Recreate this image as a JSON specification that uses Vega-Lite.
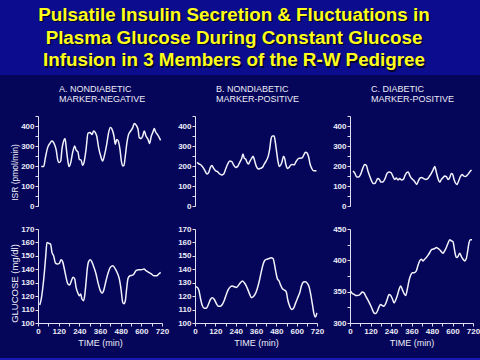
{
  "$schema": "https://vega.github.io/schema/vega-lite/v6.json",
  "padding": 0,
  "background": "#050559",
  "spacing": 0,
  "config": {
    "view": {"stroke": null},
    "title": {"font": "Liberation Sans", "fontSize": 9, "fontWeight": "normal", "color": "#ececf8", "lineHeight": 10, "anchor": "start", "frame": "group", "offset": 8, "dx": 21},
    "axis": {"domainColor": "#e0e0f0", "tickColor": "#e0e0f0", "labelColor": "#ececf8", "titleColor": "#ececf8", "grid": false, "tickSize": 3, "labelFont": "Liberation Sans", "labelFontSize": 8, "labelFontWeight": "bold", "titleFont": "Liberation Sans", "titleFontSize": 9, "titleFontWeight": "normal", "labelPadding": 1, "labelOverlap": false, "labelFlush": false, "titlePadding": 3},
    "line": {"color": "#f2f2fc", "strokeWidth": 1.5, "interpolate": "monotone"}
  },
  "datasets": {
    "head": [
      {"line": 1, "text": "Pulsatile Insulin Secretion & Fluctuations in"},
      {"line": 2, "text": "Plasma Glucose During Constant Glucose"},
      {"line": 3, "text": "Infusion in 3 Members of the R-W Pedigree"}
    ],
    "isr": [
      {"s":"A","t":19,"v":197},{"s":"A","t":33,"v":197},{"s":"A","t":43,"v":242},{"s":"A","t":56,"v":292},{"s":"A","t":72,"v":317},{"s":"A","t":81,"v":325},{"s":"A","t":97,"v":305},{"s":"A","t":105,"v":283},{"s":"A","t":114,"v":233},{"s":"A","t":122,"v":217},{"s":"A","t":132,"v":225},{"s":"A","t":139,"v":283},{"s":"A","t":149,"v":325},{"s":"A","t":157,"v":337},{"s":"A","t":165,"v":283},{"s":"A","t":172,"v":233},{"s":"A","t":180,"v":197},{"s":"A","t":190,"v":217},{"s":"A","t":201,"v":267},{"s":"A","t":213,"v":300},{"s":"A","t":221,"v":280},{"s":"A","t":232,"v":270},{"s":"A","t":240,"v":233},{"s":"A","t":250,"v":230},{"s":"A","t":259,"v":203},{"s":"A","t":267,"v":217},{"s":"A","t":279,"v":283},{"s":"A","t":290,"v":363},{"s":"A","t":302,"v":367},{"s":"A","t":314,"v":358},{"s":"A","t":323,"v":375},{"s":"A","t":333,"v":367},{"s":"A","t":341,"v":350},{"s":"A","t":352,"v":292},{"s":"A","t":364,"v":250},{"s":"A","t":375,"v":225},{"s":"A","t":387,"v":258},{"s":"A","t":399,"v":308},{"s":"A","t":410,"v":367},{"s":"A","t":420,"v":392},{"s":"A","t":430,"v":383},{"s":"A","t":441,"v":350},{"s":"A","t":449,"v":308},{"s":"A","t":457,"v":333},{"s":"A","t":466,"v":325},{"s":"A","t":476,"v":283},{"s":"A","t":484,"v":225},{"s":"A","t":492,"v":200},{"s":"A","t":499,"v":203},{"s":"A","t":507,"v":250},{"s":"A","t":515,"v":308},{"s":"A","t":526,"v":358},{"s":"A","t":538,"v":375},{"s":"A","t":550,"v":392},{"s":"A","t":559,"v":413},{"s":"A","t":571,"v":403},{"s":"A","t":581,"v":383},{"s":"A","t":588,"v":342},{"s":"A","t":600,"v":337},{"s":"A","t":608,"v":350},{"s":"A","t":617,"v":375},{"s":"A","t":627,"v":350},{"s":"A","t":639,"v":333},{"s":"A","t":648,"v":313},{"s":"A","t":658,"v":350},{"s":"A","t":666,"v":367},{"s":"A","t":675,"v":387},{"s":"A","t":683,"v":370},{"s":"A","t":693,"v":358},{"s":"A","t":701,"v":347},{"s":"A","t":712,"v":328},
      {"s":"B","t":12,"v":218},{"s":"B","t":24,"v":210},{"s":"B","t":35,"v":205},{"s":"B","t":47,"v":193},{"s":"B","t":59,"v":176},{"s":"B","t":71,"v":160},{"s":"B","t":81,"v":168},{"s":"B","t":91,"v":193},{"s":"B","t":100,"v":202},{"s":"B","t":110,"v":188},{"s":"B","t":122,"v":176},{"s":"B","t":134,"v":171},{"s":"B","t":146,"v":160},{"s":"B","t":157,"v":155},{"s":"B","t":169,"v":160},{"s":"B","t":181,"v":185},{"s":"B","t":193,"v":210},{"s":"B","t":205,"v":225},{"s":"B","t":217,"v":222},{"s":"B","t":228,"v":205},{"s":"B","t":240,"v":193},{"s":"B","t":252,"v":198},{"s":"B","t":264,"v":218},{"s":"B","t":276,"v":239},{"s":"B","t":283,"v":260},{"s":"B","t":291,"v":239},{"s":"B","t":299,"v":235},{"s":"B","t":307,"v":218},{"s":"B","t":315,"v":210},{"s":"B","t":323,"v":222},{"s":"B","t":335,"v":239},{"s":"B","t":343,"v":249},{"s":"B","t":350,"v":232},{"s":"B","t":362,"v":198},{"s":"B","t":374,"v":185},{"s":"B","t":386,"v":188},{"s":"B","t":398,"v":193},{"s":"B","t":409,"v":210},{"s":"B","t":421,"v":227},{"s":"B","t":433,"v":252},{"s":"B","t":441,"v":286},{"s":"B","t":449,"v":336},{"s":"B","t":457,"v":350},{"s":"B","t":467,"v":350},{"s":"B","t":474,"v":319},{"s":"B","t":482,"v":269},{"s":"B","t":490,"v":222},{"s":"B","t":498,"v":198},{"s":"B","t":506,"v":205},{"s":"B","t":514,"v":222},{"s":"B","t":522,"v":249},{"s":"B","t":530,"v":235},{"s":"B","t":537,"v":205},{"s":"B","t":547,"v":188},{"s":"B","t":555,"v":193},{"s":"B","t":565,"v":205},{"s":"B","t":575,"v":208},{"s":"B","t":585,"v":205},{"s":"B","t":594,"v":218},{"s":"B","t":604,"v":232},{"s":"B","t":614,"v":239},{"s":"B","t":624,"v":239},{"s":"B","t":634,"v":242},{"s":"B","t":642,"v":255},{"s":"B","t":652,"v":269},{"s":"B","t":661,"v":266},{"s":"B","t":671,"v":244},{"s":"B","t":679,"v":210},{"s":"B","t":689,"v":188},{"s":"B","t":699,"v":176},{"s":"B","t":709,"v":176},{"s":"B","t":717,"v":175},
      {"s":"C","t":18,"v":175},{"s":"C","t":29,"v":163},{"s":"C","t":39,"v":145},{"s":"C","t":51,"v":145},{"s":"C","t":62,"v":158},{"s":"C","t":74,"v":187},{"s":"C","t":86,"v":208},{"s":"C","t":96,"v":203},{"s":"C","t":105,"v":175},{"s":"C","t":115,"v":150},{"s":"C","t":125,"v":128},{"s":"C","t":135,"v":113},{"s":"C","t":146,"v":113},{"s":"C","t":154,"v":125},{"s":"C","t":162,"v":138},{"s":"C","t":172,"v":133},{"s":"C","t":181,"v":120},{"s":"C","t":193,"v":120},{"s":"C","t":205,"v":137},{"s":"C","t":217,"v":163},{"s":"C","t":228,"v":170},{"s":"C","t":240,"v":167},{"s":"C","t":252,"v":147},{"s":"C","t":261,"v":133},{"s":"C","t":271,"v":140},{"s":"C","t":281,"v":130},{"s":"C","t":291,"v":137},{"s":"C","t":302,"v":130},{"s":"C","t":312,"v":133},{"s":"C","t":322,"v":153},{"s":"C","t":332,"v":167},{"s":"C","t":341,"v":170},{"s":"C","t":351,"v":150},{"s":"C","t":361,"v":137},{"s":"C","t":371,"v":130},{"s":"C","t":380,"v":120},{"s":"C","t":390,"v":108},{"s":"C","t":400,"v":125},{"s":"C","t":410,"v":140},{"s":"C","t":420,"v":142},{"s":"C","t":431,"v":137},{"s":"C","t":443,"v":133},{"s":"C","t":455,"v":137},{"s":"C","t":466,"v":150},{"s":"C","t":476,"v":163},{"s":"C","t":486,"v":180},{"s":"C","t":496,"v":197},{"s":"C","t":506,"v":167},{"s":"C","t":515,"v":137},{"s":"C","t":525,"v":120},{"s":"C","t":535,"v":133},{"s":"C","t":545,"v":142},{"s":"C","t":554,"v":150},{"s":"C","t":564,"v":147},{"s":"C","t":574,"v":133},{"s":"C","t":584,"v":142},{"s":"C","t":593,"v":163},{"s":"C","t":601,"v":158},{"s":"C","t":609,"v":133},{"s":"C","t":619,"v":113},{"s":"C","t":626,"v":108},{"s":"C","t":636,"v":125},{"s":"C","t":646,"v":147},{"s":"C","t":656,"v":158},{"s":"C","t":665,"v":150},{"s":"C","t":675,"v":147},{"s":"C","t":685,"v":153},{"s":"C","t":695,"v":163},{"s":"C","t":705,"v":175},{"s":"C","t":712,"v":180}
    ],
    "glu": [
      {"s":"A","t":10,"v":113.4},{"s":"A","t":19,"v":117.9},{"s":"A","t":27,"v":125.3},{"s":"A","t":37,"v":137.7},{"s":"A","t":45,"v":150},{"s":"A","t":52,"v":160},{"s":"A","t":62,"v":159.3},{"s":"A","t":73,"v":158.8},{"s":"A","t":81,"v":152.6},{"s":"A","t":91,"v":150},{"s":"A","t":101,"v":144.7},{"s":"A","t":112,"v":143.9},{"s":"A","t":124,"v":144.4},{"s":"A","t":134,"v":147.1},{"s":"A","t":143,"v":145.7},{"s":"A","t":153,"v":140.2},{"s":"A","t":163,"v":134},{"s":"A","t":174,"v":129},{"s":"A","t":184,"v":128.3},{"s":"A","t":194,"v":131.5},{"s":"A","t":203,"v":134},{"s":"A","t":213,"v":132.8},{"s":"A","t":221,"v":126.6},{"s":"A","t":230,"v":122.8},{"s":"A","t":240,"v":120.3},{"s":"A","t":248,"v":121.6},{"s":"A","t":255,"v":117.9},{"s":"A","t":265,"v":116.6},{"s":"A","t":271,"v":120.3},{"s":"A","t":279,"v":130.3},{"s":"A","t":286,"v":140.2},{"s":"A","t":294,"v":145.7},{"s":"A","t":304,"v":147.1},{"s":"A","t":314,"v":145.2},{"s":"A","t":325,"v":141.4},{"s":"A","t":337,"v":136.5},{"s":"A","t":348,"v":130.3},{"s":"A","t":362,"v":124.1},{"s":"A","t":372,"v":122.1},{"s":"A","t":381,"v":124.1},{"s":"A","t":395,"v":131.5},{"s":"A","t":407,"v":137.2},{"s":"A","t":420,"v":141.4},{"s":"A","t":435,"v":142.7},{"s":"A","t":449,"v":140.2},{"s":"A","t":463,"v":136.5},{"s":"A","t":472,"v":132.8},{"s":"A","t":482,"v":125.3},{"s":"A","t":492,"v":115.4},{"s":"A","t":499,"v":114.4},{"s":"A","t":507,"v":116.6},{"s":"A","t":515,"v":125.8},{"s":"A","t":523,"v":133.3},{"s":"A","t":534,"v":135.2},{"s":"A","t":546,"v":135.5},{"s":"A","t":557,"v":136.5},{"s":"A","t":569,"v":139},{"s":"A","t":585,"v":139.7},{"s":"A","t":600,"v":139.7},{"s":"A","t":616,"v":140.2},{"s":"A","t":627,"v":139},{"s":"A","t":643,"v":137.7},{"s":"A","t":658,"v":136.5},{"s":"A","t":674,"v":135.2},{"s":"A","t":689,"v":135.2},{"s":"A","t":701,"v":136.5},{"s":"A","t":712,"v":137.7},
      {"s":"B","t":4,"v":127},{"s":"B","t":16,"v":126.3},{"s":"B","t":24,"v":123.8},{"s":"B","t":33,"v":118},{"s":"B","t":43,"v":113},{"s":"B","t":55,"v":111},{"s":"B","t":67,"v":111},{"s":"B","t":79,"v":113.8},{"s":"B","t":91,"v":117.5},{"s":"B","t":102,"v":118.8},{"s":"B","t":114,"v":117.5},{"s":"B","t":126,"v":114.5},{"s":"B","t":138,"v":112.5},{"s":"B","t":150,"v":112.5},{"s":"B","t":161,"v":113.8},{"s":"B","t":173,"v":117},{"s":"B","t":185,"v":121.3},{"s":"B","t":197,"v":125},{"s":"B","t":209,"v":127},{"s":"B","t":220,"v":127.5},{"s":"B","t":232,"v":127},{"s":"B","t":244,"v":126.5},{"s":"B","t":256,"v":128},{"s":"B","t":268,"v":130},{"s":"B","t":280,"v":131.3},{"s":"B","t":291,"v":130},{"s":"B","t":303,"v":127.5},{"s":"B","t":313,"v":124.5},{"s":"B","t":323,"v":121.3},{"s":"B","t":333,"v":118.8},{"s":"B","t":343,"v":119.5},{"s":"B","t":354,"v":121.3},{"s":"B","t":366,"v":125},{"s":"B","t":378,"v":130.5},{"s":"B","t":390,"v":137.5},{"s":"B","t":402,"v":143.8},{"s":"B","t":413,"v":146.8},{"s":"B","t":425,"v":147.5},{"s":"B","t":437,"v":148},{"s":"B","t":449,"v":148.5},{"s":"B","t":461,"v":148},{"s":"B","t":469,"v":143.8},{"s":"B","t":476,"v":138.8},{"s":"B","t":486,"v":133},{"s":"B","t":496,"v":131.3},{"s":"B","t":506,"v":128},{"s":"B","t":516,"v":125.5},{"s":"B","t":528,"v":124.5},{"s":"B","t":539,"v":123},{"s":"B","t":547,"v":117.5},{"s":"B","t":559,"v":112.5},{"s":"B","t":571,"v":110},{"s":"B","t":583,"v":111.3},{"s":"B","t":594,"v":115},{"s":"B","t":606,"v":118.8},{"s":"B","t":618,"v":122.5},{"s":"B","t":628,"v":127.5},{"s":"B","t":640,"v":130.5},{"s":"B","t":652,"v":130.8},{"s":"B","t":663,"v":129.5},{"s":"B","t":673,"v":127},{"s":"B","t":683,"v":121.3},{"s":"B","t":693,"v":113.8},{"s":"B","t":701,"v":107.5},{"s":"B","t":709,"v":104.5},{"s":"B","t":715,"v":105.5},{"s":"B","t":719,"v":107.5},
      {"s":"C","t":4,"v":350.9},{"s":"C","t":14,"v":347},{"s":"C","t":23,"v":346},{"s":"C","t":33,"v":344},{"s":"C","t":43,"v":344},{"s":"C","t":53,"v":344.5},{"s":"C","t":62,"v":346.6},{"s":"C","t":72,"v":349.3},{"s":"C","t":82,"v":348.2},{"s":"C","t":92,"v":342.8},{"s":"C","t":101,"v":338.6},{"s":"C","t":111,"v":333.2},{"s":"C","t":121,"v":327.9},{"s":"C","t":131,"v":321.4},{"s":"C","t":140,"v":316.1},{"s":"C","t":150,"v":315},{"s":"C","t":160,"v":318.7},{"s":"C","t":170,"v":325.7},{"s":"C","t":179,"v":329.5},{"s":"C","t":189,"v":327.9},{"s":"C","t":199,"v":326.8},{"s":"C","t":209,"v":331.1},{"s":"C","t":219,"v":338.6},{"s":"C","t":228,"v":345.5},{"s":"C","t":238,"v":343.9},{"s":"C","t":248,"v":338.6},{"s":"C","t":258,"v":332.1},{"s":"C","t":267,"v":336.4},{"s":"C","t":277,"v":343.9},{"s":"C","t":287,"v":353.6},{"s":"C","t":297,"v":358.9},{"s":"C","t":306,"v":353.6},{"s":"C","t":316,"v":347.1},{"s":"C","t":326,"v":343.9},{"s":"C","t":336,"v":354.6},{"s":"C","t":345,"v":367},{"s":"C","t":355,"v":376.1},{"s":"C","t":365,"v":380.3},{"s":"C","t":377,"v":380.3},{"s":"C","t":388,"v":383},{"s":"C","t":398,"v":392.1},{"s":"C","t":408,"v":399.1},{"s":"C","t":418,"v":401.8},{"s":"C","t":428,"v":399.1},{"s":"C","t":437,"v":401.8},{"s":"C","t":447,"v":404.4},{"s":"C","t":457,"v":408.2},{"s":"C","t":467,"v":412.5},{"s":"C","t":476,"v":416.8},{"s":"C","t":486,"v":417.8},{"s":"C","t":496,"v":418.9},{"s":"C","t":506,"v":420.5},{"s":"C","t":515,"v":418.9},{"s":"C","t":525,"v":416.8},{"s":"C","t":535,"v":413.6},{"s":"C","t":545,"v":411.4},{"s":"C","t":554,"v":415.2},{"s":"C","t":564,"v":420.5},{"s":"C","t":574,"v":427.5},{"s":"C","t":584,"v":432.8},{"s":"C","t":593,"v":431.2},{"s":"C","t":603,"v":429.6},{"s":"C","t":611,"v":417.8},{"s":"C","t":619,"v":407.1},{"s":"C","t":626,"v":404.4},{"s":"C","t":634,"v":407.1},{"s":"C","t":642,"v":411.4},{"s":"C","t":652,"v":406},{"s":"C","t":662,"v":401.8},{"s":"C","t":671,"v":399.1},{"s":"C","t":681,"v":402.8},{"s":"C","t":689,"v":415.2},{"s":"C","t":697,"v":428.5},{"s":"C","t":705,"v":432.8},{"s":"C","t":714,"v":432.8}
    ],
    "blank": [{"k": 1}],
    "none": []
  },
  "vconcat": [
    {
      "width": 480, "height": 75,
      "view": {"fill": "#0c0c8e", "stroke": null},
      "data": {"name": "head"},
      "encoding": {
        "y": {"field": "line", "type": "ordinal", "axis": null, "scale": {"type": "point", "padding": 0.65}},
        "text": {"field": "text"}
      },
      "layer": [
        {"mark": {"type": "text", "font": "Liberation Sans", "fontSize": 18.8, "fontWeight": "bold", "color": "#00002a", "dx": -4.5, "dy": 1.5, "baseline": "middle"}},
        {"mark": {"type": "text", "font": "Liberation Sans", "fontSize": 18.8, "fontWeight": "bold", "color": "#ffff1a", "dx": -6, "baseline": "middle"}}
      ]
    },
    {
      "hconcat": [
        {
          "width": 0.01, "height": 1,
          "data": {"name": "none"},
          "mark": {"type": "point", "opacity": 0},
          "encoding": {}
        },
        {
          "spacing": 15,
          "vconcat": [
            {
              "width": 124, "height": 90,
              "title": {"text": [" ", "A.  NONDIABETIC", "MARKER-NEGATIVE"]},
              "data": {"name": "isr"},
              "transform": [{"filter": "datum.s === 'A'"}],
              "mark": {"type": "line"},
              "encoding": {
                "x": {"field": "t", "type": "quantitative", "scale": {"domain": [0, 720]}, "axis": null},
                "y": {"field": "v", "type": "quantitative", "scale": {"domain": [0, 450], "nice": false}, "axis": {"title": "ISR  (pmol/min)", "titleFontSize": 8.5, "titlePadding": 1, "titleY": 56, "values": [0, 50, 100, 150, 200, 250, 300, 350, 400, 450], "labelExpr": "datum.value % 100 === 0 ? datum.label : ''"}}
              }
            },
            {
              "width": 124, "height": 94,
              "data": {"name": "glu"},
              "transform": [{"filter": "datum.s === 'A'"}],
              "mark": {"type": "line"},
              "encoding": {
                "x": {"field": "t", "type": "quantitative", "scale": {"domain": [0, 720]}, "axis": {"title": ["TIME  (min)", " "], "titleLineHeight": 11, "values": [0, 60, 120, 180, 240, 300, 360, 420, 480, 540, 600, 660, 720], "labelExpr": "datum.value % 120 === 0 ? datum.label : ''"}},
                "y": {"field": "v", "type": "quantitative", "scale": {"domain": [100, 170], "zero": false, "nice": false}, "axis": {"title": "GLUCOSE  (mg/dl)", "titleFontSize": 9.5, "titlePadding": 1, "titleY": 54, "values": [100, 110, 120, 130, 140, 150, 160, 170]}}
              }
            }
          ]
        },
        {
          "spacing": 15,
          "vconcat": [
            {
              "width": 122, "height": 90,
              "title": {"text": [" ", "B.  NONDIABETIC", "MARKER-POSITIVE"]},
              "data": {"name": "isr"},
              "transform": [{"filter": "datum.s === 'B'"}],
              "mark": {"type": "line"},
              "encoding": {
                "x": {"field": "t", "type": "quantitative", "scale": {"domain": [0, 720]}, "axis": null},
                "y": {"field": "v", "type": "quantitative", "scale": {"domain": [0, 450], "nice": false}, "axis": {"title": null, "values": [0, 50, 100, 150, 200, 250, 300, 350, 400, 450], "labelExpr": "datum.value % 100 === 0 ? datum.label : ''"}}
              }
            },
            {
              "width": 122, "height": 94,
              "data": {"name": "glu"},
              "transform": [{"filter": "datum.s === 'B'"}],
              "mark": {"type": "line"},
              "encoding": {
                "x": {"field": "t", "type": "quantitative", "scale": {"domain": [0, 720]}, "axis": {"title": ["TIME  (min)", " "], "titleLineHeight": 11, "values": [0, 60, 120, 180, 240, 300, 360, 420, 480, 540, 600, 660, 720], "labelExpr": "datum.value % 120 === 0 ? datum.label : ''"}},
                "y": {"field": "v", "type": "quantitative", "scale": {"domain": [100, 170], "zero": false, "nice": false}, "axis": {"title": null, "values": [100, 110, 120, 130, 140, 150, 160, 170]}}
              }
            }
          ]
        },
        {
          "spacing": 15,
          "vconcat": [
            {
              "width": 123, "height": 90,
              "title": {"text": [" ", "C.  DIABETIC", "MARKER-POSITIVE"]},
              "data": {"name": "isr"},
              "transform": [{"filter": "datum.s === 'C'"}],
              "mark": {"type": "line"},
              "encoding": {
                "x": {"field": "t", "type": "quantitative", "scale": {"domain": [0, 720]}, "axis": null},
                "y": {"field": "v", "type": "quantitative", "scale": {"domain": [0, 450], "nice": false}, "axis": {"title": null, "values": [0, 50, 100, 150, 200, 250, 300, 350, 400, 450], "labelExpr": "datum.value % 100 === 0 ? datum.label : ''"}}
              }
            },
            {
              "width": 123, "height": 94,
              "data": {"name": "glu"},
              "transform": [{"filter": "datum.s === 'C'"}],
              "mark": {"type": "line"},
              "encoding": {
                "x": {"field": "t", "type": "quantitative", "scale": {"domain": [0, 720]}, "axis": {"title": ["TIME  (min)", " "], "titleLineHeight": 11, "values": [0, 60, 120, 180, 240, 300, 360, 420, 480, 540, 600, 660, 720], "labelExpr": "datum.value % 120 === 0 ? datum.label : ''"}},
                "y": {"field": "v", "type": "quantitative", "scale": {"domain": [300, 450], "zero": false, "nice": false}, "axis": {"title": null, "values": [300, 325, 350, 375, 400, 425, 450], "labelExpr": "datum.value % 50 === 0 ? datum.label : ''"}}
              }
            }
          ]
        }
      ],
      "spacing": 8
    },
    {
      "width": 480, "height": 12,
      "view": {"fill": "#1818b4", "stroke": null},
      "data": {"name": "blank"},
      "mark": {"type": "point", "opacity": 0},
      "encoding": {}
    }
  ]
}
